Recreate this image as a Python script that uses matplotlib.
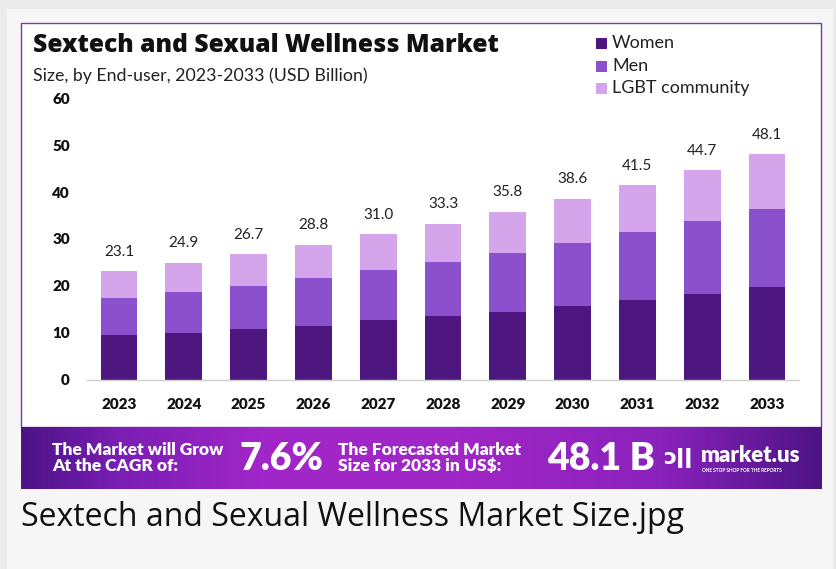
import numpy as np
import matplotlib
matplotlib.use("Agg")
import matplotlib.pyplot as plt
from matplotlib.patches import Rectangle
from matplotlib.colors import LinearSegmentedColormap

years = ["2023", "2024", "2025", "2026", "2027", "2028", "2029", "2030", "2031", "2032", "2033"]
women = [9.4, 10.0, 10.7, 11.5, 12.6, 13.5, 14.5, 15.7, 16.9, 18.2, 19.7]
men = [8.0, 8.6, 9.3, 10.1, 10.7, 11.6, 12.6, 13.4, 14.5, 15.6, 16.6]
lgbt = [5.7, 6.3, 6.7, 7.2, 7.7, 8.2, 8.7, 9.5, 10.1, 10.9, 11.8]
totals = [23.1, 24.9, 26.7, 28.8, 31.0, 33.3, 35.8, 38.6, 41.5, 44.7, 48.1]
series_names = ["Women", "Men", "LGBT community"]
yticks = [0, 10, 20, 30, 40, 50, 60]

colors = ["#4e167f", "#8b50cc", "#d4a5ea"]

W, H = 836, 569
fig = plt.figure(figsize=(W / 100, H / 100), dpi=100)
fig.patch.set_facecolor("#ebebeb")

def fx(x):
    return x / W

def fy(y):
    return 1 - y / H

# page background
fig.add_artist(Rectangle((fx(7), 0), fx(833) - fx(7), fy(9), transform=fig.transFigure,
                         facecolor="#f6f6f6", edgecolor="none", zorder=-3))
# white card with purple border
fig.add_artist(Rectangle((fx(21), fy(427)), fx(821) - fx(21), fy(22.5) - fy(427),
                         transform=fig.transFigure, facecolor="white",
                         edgecolor="#7b3aa6", linewidth=1.0, zorder=-2))

# banner gradient
bax = fig.add_axes([fx(21), fy(489), fx(822) - fx(21), fy(427) - fy(489)])
bax.set_zorder(1)
bax.set_axis_off()
cmap = LinearSegmentedColormap.from_list(
    "ban", [(0.0, "#4c1486"), (0.12, "#7a1eb4"), (0.3, "#a226c9"), (0.55, "#a026c6"),
            (0.8, "#8a22bc"), (1.0, "#4d1486")])
grad = np.linspace(0, 1, 400).reshape(1, -1)
bax.imshow(grad, aspect="auto", cmap=cmap, extent=[0, 1, 0, 1])
bax.set_xlim(0, 1)
bax.set_ylim(0, 1)

# main axes
ax = fig.add_axes([fx(86.6), fy(379.5), fx(799.4) - fx(86.6), fy(98.5) - fy(379.5)])
ax.set_zorder(1)
x = np.arange(len(years))
bw = 0.57
ax.bar(x, women, bw, color=colors[0], label=series_names[0], zorder=2)
ax.bar(x, men, bw, bottom=women, color=colors[1], label=series_names[1], zorder=2)
bottom2 = np.array(women) + np.array(men)
ax.bar(x, lgbt, bw, bottom=bottom2, color=colors[2], label=series_names[2], zorder=2)

for xi, t, top in zip(x, totals, bottom2 + np.array(lgbt)):
    ax.annotate(f"{t:.1f}", (xi, top), xytext=(0, 9), textcoords="offset points",
                ha="center", va="bottom", fontsize=11, color="#222222", family="Lato")

ax.set_xlim(-0.5, len(years) - 0.5)
ax.set_ylim(0, 60)
ax.set_yticks(yticks)
ax.set_yticklabels([str(v) for v in yticks], fontsize=11, fontweight="heavy",
                   family="Lato", color="#111111")
ax.set_xticks(x)
ax.set_xticklabels(years, fontsize=11, fontweight="heavy", family="Lato", color="#111111")
ax.tick_params(axis="both", length=0)
ax.tick_params(axis="y", pad=12)
ax.tick_params(axis="x", pad=13)
for s in ["top", "right", "left"]:
    ax.spines[s].set_visible(False)
ax.spines["bottom"].set_color("#d0d0d0")
ax.spines["bottom"].set_linewidth(1.0)
ax.set_facecolor("none")

# Titles
fig.text(fx(33), fy(46), "Sextech and Sexual Wellness Market", fontsize=17.7,
         fontweight="heavy", family="Open Sans", color="#111111", va="center", ha="left")
fig.text(fx(33), fy(76), "Size, by End-user, 2023-2033 (USD Billion)", fontsize=12.8,
         family="Lato", color="#222222", va="center", ha="left")

# Legend
leg_y = [43, 66, 88]
for name, c, yy in zip(series_names, colors, leg_y):
    fig.add_artist(Rectangle((fx(596), fy(yy + 6)), fx(607) - fx(596), fy(yy - 5) - fy(yy + 6),
                             transform=fig.transFigure, facecolor=c, edgecolor="none"))
    fig.text(fx(612), fy(yy), name, fontsize=13, family="Lato", color="#222222",
             va="center", ha="left")

# Banner texts
fig.text(fx(52), fy(458), "The Market will Grow\nAt the CAGR of:", fontsize=12.5,
         fontweight="heavy", family="Lato", color="white", va="center", ha="left",
         linespacing=1.0, zorder=5)
fig.text(fx(239), fy(459), "7.6%", fontsize=27, fontweight="heavy", family="Lato",
         color="white", va="center", ha="left", zorder=5)
fig.text(fx(338), fy(458), "The Forecasted Market\nSize for 2033 in US$:", fontsize=12.5,
         fontweight="heavy", family="Lato", color="white", va="center", ha="left",
         linespacing=1.0, zorder=5)
fig.text(fx(547), fy(459), "48.1 B", fontsize=27, fontweight="heavy", family="Lato",
         color="white", va="center", ha="left", zorder=5)
fig.text(fx(663), fy(458), "\u0254\u01C0\u01C0", fontsize=16, fontweight="bold",
         family="DejaVu Sans", color="white", va="center", ha="left", zorder=5)
fig.text(fx(701), fy(456), "market.us", fontsize=16, fontweight="heavy", family="Lato",
         color="white", va="center", ha="left", zorder=5)
fig.text(fx(702), fy(471), "ONE STOP SHOP FOR THE REPORTS", fontsize=3.4,
         fontweight="bold", family="Lato", color="white", va="center", ha="left", zorder=5)

# Caption
fig.text(fx(21), fy(517), "Sextech and Sexual Wellness Market Size.jpg", fontsize=23,
         family="Open Sans", color="#111111", va="center", ha="left")

fig.savefig("out.png", dpi=100, facecolor=fig.get_facecolor())
